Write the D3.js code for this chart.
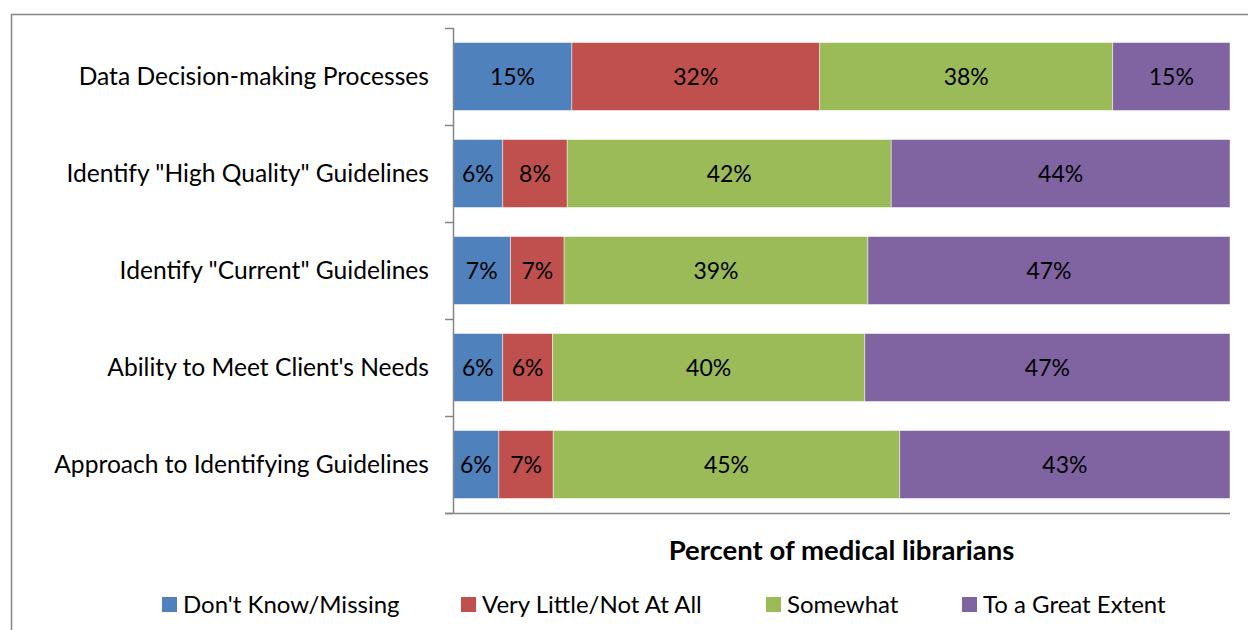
<!DOCTYPE html>
<html>
<head>
<meta charset="utf-8">
<script src="https://cdn.jsdelivr.net/npm/d3@7"></script>
<style>
  body { margin: 0; background: #fff; }
  svg { display: block; font-family: Lato, "Open Sans", sans-serif; }
</style>
</head>
<body>
<svg id="chart" width="1248" height="630"></svg>
<script>
// categories top to bottom
var categories = [
  "Data Decision-making Processes",
  'Identify "High Quality" Guidelines',
  'Identify "Current" Guidelines',
  "Ability to Meet Client's Needs",
  "Approach to Identifying Guidelines"
];
var seriesNames = ["Don't Know/Missing", "Very Little/Not At All", "Somewhat", "To a Great Extent"];
var seriesColors = ["#4F81BD", "#C0504D", "#9BBB59", "#8064A2"];
// percent values per series, same order as categories
var dontKnow   = [15.3, 6.4, 7.4, 6.4, 5.9];
var veryLittle = [31.9, 8.3, 6.9, 6.4, 7.0];
var somewhat   = [37.7, 41.7, 39.1, 40.2, 44.6];
var greatExtent = [15.1, 43.6, 46.6, 47.0, 42.5];
var axisTitle = "Percent of medical librarians";

var svg = d3.select("svg"),
  margin = { top: 28, right: 18, bottom: 117, left: 453 },
  width = +svg.attr("width") - margin.left - margin.right,
  height = +svg.attr("height") - margin.top - margin.bottom;

// outer chart border (runs off the right/bottom edges)
svg.append("rect")
  .attr("x", 11.5).attr("y", 14.5)
  .attr("width", 1260).attr("height", 640)
  .attr("fill", "none").attr("stroke", "#868686").attr("stroke-width", 1.5);

var rows = categories.map(function (c, i) {
  return { cat: c, s0: dontKnow[i], s1: veryLittle[i], s2: somewhat[i], s3: greatExtent[i] };
});
var keys = ["s0", "s1", "s2", "s3"];
var stacked = d3.stack().keys(keys)(rows);

var x = d3.scaleLinear().domain([0, 100]).range([0, width]);
var y = d3.scaleBand().domain(categories).range([0, height]).paddingInner(0.3).paddingOuter(0.15);

var g = svg.append("g").attr("transform", "translate(" + margin.left + "," + margin.top + ")");

var layer = g.selectAll(".layer")
  .data(stacked)
  .enter().append("g")
  .attr("class", "layer")
  .attr("fill", function (d, i) { return seriesColors[i]; });

layer.selectAll("rect")
  .data(function (d) { return d; })
  .enter().append("rect")
  .attr("x", function (d) { return x(d[0]); })
  .attr("y", function (d) { return y(d.data.cat); })
  .attr("width", function (d) { return x(d[1]) - x(d[0]); })
  .attr("height", y.bandwidth())
  .attr("stroke", "#fff").attr("stroke-opacity", 0.6).attr("stroke-width", 0.75);

layer.selectAll("text")
  .data(function (d) { return d; })
  .enter().append("text")
  .attr("x", function (d) { return (x(d[0]) + x(d[1])) / 2; })
  .attr("y", function (d) { return y(d.data.cat) + y.bandwidth() / 2; })
  .attr("dy", "0.35em")
  .attr("text-anchor", "middle")
  .attr("fill", "#000")
  .style("font-size", "23px")
  .text(function (d) { return Math.round(d[1] - d[0]) + "%"; });

// y axis: ticks between categories, no x tick labels
var yEdges = categories.map(function (c) { return y(c) - y.step() * y.paddingInner() / 2; });
yEdges[0] = 0;
yEdges.push(height);

g.append("line")
  .attr("x1", 0.5).attr("x2", 0.5).attr("y1", 0).attr("y2", height)
  .attr("stroke", "#868686").attr("stroke-width", 1.5);
g.append("line")
  .attr("x1", -8).attr("x2", width).attr("y1", height + 0.5).attr("y2", height + 0.5)
  .attr("stroke", "#868686").attr("stroke-width", 1.5);
g.selectAll(".tick")
  .data(yEdges)
  .enter().append("line")
  .attr("class", "tick")
  .attr("x1", -8).attr("x2", 0)
  .attr("y1", function (d) { return d + 0.5; }).attr("y2", function (d) { return d + 0.5; })
  .attr("stroke", "#868686").attr("stroke-width", 1.5);

g.selectAll(".cat")
  .data(categories)
  .enter().append("text")
  .attr("class", "cat")
  .attr("x", -24)
  .attr("y", function (d) { return y(d) + y.bandwidth() / 2; })
  .attr("dy", "0.35em")
  .attr("text-anchor", "end")
  .style("font-size", "24.6px")
  .text(function (d) { return d; });

svg.append("text")
  .attr("x", margin.left + width / 2)
  .attr("y", 560)
  .attr("text-anchor", "middle")
  .style("font-size", "27.5px")
  .style("font-weight", "bold")
  .text(axisTitle);

// legend
var legendX = [162, 461, 766, 962];
var legend = svg.selectAll(".legend")
  .data(seriesNames)
  .enter().append("g")
  .attr("class", "legend")
  .attr("transform", function (d, i) { return "translate(" + legendX[i] + ",597)"; });
legend.append("rect")
  .attr("width", 15).attr("height", 15)
  .attr("fill", function (d, i) { return seriesColors[i]; });
legend.append("text")
  .attr("x", 21).attr("y", 8).attr("dy", "0.35em")
  .style("font-size", "24px")
  .text(function (d) { return d; });
</script>
</body>
</html>
